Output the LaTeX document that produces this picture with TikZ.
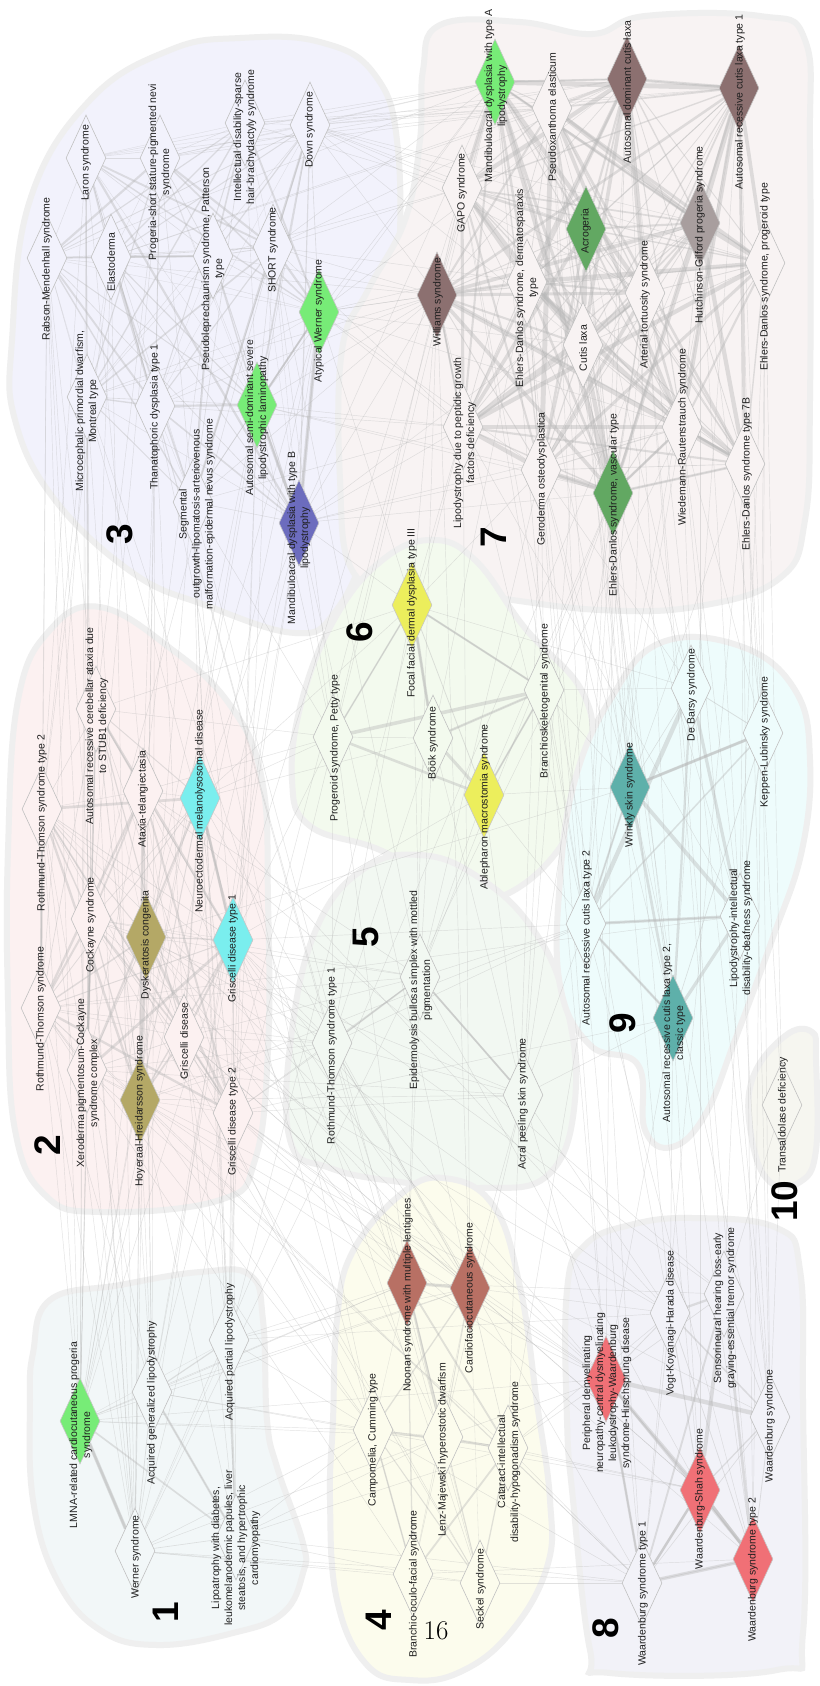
\documentclass[tikz,border=0pt]{standalone}
\usepackage{fontspec}
\usetikzlibrary{shapes.geometric}
\newfontfamily\lsans{Liberation Sans}

% cluster backgrounds
\definecolor{h1}{RGB}{242,247,248}
\definecolor{h2}{RGB}{252,241,241}
\definecolor{h3}{RGB}{242,242,252}
\definecolor{h4}{RGB}{252,252,237}
\definecolor{h5}{RGB}{242,248,242}
\definecolor{h6}{RGB}{243,250,238}
\definecolor{h7}{RGB}{248,243,243}
\definecolor{h8}{RGB}{242,242,248}
\definecolor{h9}{RGB}{238,252,252}
\definecolor{h10}{RGB}{246,246,240}
\definecolor{hullline}{RGB}{239,239,239}
\definecolor{edgec}{RGB}{182,182,182}
\definecolor{dline}{RGB}{192,192,192}
% highlighted node colours
\definecolor{clgreen}{RGB}{119,236,119}
\definecolor{cblue}{RGB}{108,108,190}
\definecolor{cbrown}{RGB}{140,112,112}
\definecolor{chgray}{RGB}{168,158,158}
\definecolor{cdgreen}{RGB}{98,168,98}
\definecolor{colive}{RGB}{180,168,102}
\definecolor{ccyan}{RGB}{122,238,238}
\definecolor{cyellow}{RGB}{236,238,92}
\definecolor{crbrown}{RGB}{184,112,100}
\definecolor{cred}{RGB}{240,112,118}
\definecolor{cteal}{RGB}{94,176,170}

\pgfdeclarelayer{hulls}
\pgfdeclarelayer{edges}
\pgfdeclarelayer{labels}
\pgfsetlayers{hulls,edges,main,labels}

\tikzset{
  dmd/.style={shape=diamond, minimum width=40pt, minimum height=86pt, inner sep=0pt, draw=dline, line width=0.6pt},
  txt/.style={font=\lsans\fontsize{10.5}{13}\selectfont, rotate=90, align=center, inner sep=0pt, text=black!88},
  num/.style={font=\lsans\bfseries\fontsize{37}{37}\selectfont, rotate=90, inner sep=0pt},
  hull/.style={draw=hullline, line width=6pt},
  edge/.style={draw=edgec, draw opacity=0.4, line cap=round},
  n1/.style={fill=h1}, n2/.style={fill=h2}, n3/.style={fill=h3}, n4/.style={fill=h4},
  n5/.style={fill=h5}, n6/.style={fill=h6}, n7/.style={fill=h7}, n8/.style={fill=h8},
  n9/.style={fill=h9}, n10/.style={fill=h10},
  hl/.style={fill=#1, draw=gray!45}
}

% diamond node with its rotated caption
\newcommand\dn[7]{%
  \node[dmd,#2] (#1) at (#3,#4) {};
  \begin{pgfonlayer}{labels}
    \node[txt] (#1-t) at (#5,#6) {#7};
  \end{pgfonlayer}}

% all pairs inside a group, widths varied
\newcommand\grp[2]{%
  \foreach \a [count=\i] in {#2}{%
    \foreach \b [count=\j] in {#2}{%
      \ifnum\j>\i\relax
        \pgfmathsetmacro\m{mod(\i*7+\j*11,13)/12}%
        \pgfmathsetmacro\w{#1*(0.35+2.4*\m*\m)}%
        \draw[edge,line width=\w pt] (\a) -- (\b);
      \fi}}}

\begin{document}
\begin{tikzpicture}[x=1pt,y=-1pt]
\useasboundingbox (0,0) rectangle (819,1686);

\begin{pgfonlayer}{hulls}
\fill[white] (0,0) rectangle (819,1686);
\draw[hull,fill=h3] plot[smooth cycle,tension=0.7] coordinates {(12,340) (30,200) (90,100) (170,50) (240,38) (320,42) (375,75) (398,150) (398,300) (390,430) (368,540) (335,612) (295,633) (205,605) (133,573) (55,500) (15,420)};
\draw[hull,fill=h7] plot[smooth cycle,tension=0.7] coordinates {(423,70) (440,25) (520,22) (592,34) (645,16) (760,16) (805,40) (810,150) (810,400) (805,520) (780,578) (700,606) (600,610) (480,596) (400,590) (352,570) (340,480) (342,350) (368,290) (405,220) (420,140)};
\draw[hull,fill=h2] plot[smooth cycle,tension=0.7] coordinates {(8,850) (18,700) (50,630) (100,607) (170,648) (230,705) (262,780) (268,900) (268,1050) (255,1160) (220,1200) (100,1212) (45,1195) (15,1130) (8,1000)};
\draw[hull,fill=h6] plot[smooth cycle,tension=0.7] coordinates {(292,780) (302,700) (335,618) (380,562) (430,540) (475,560) (525,628) (583,693) (590,760) (565,840) (505,895) (455,890) (380,850) (310,826)};
\draw[hull,fill=h5] plot[smooth cycle,tension=0.7] coordinates {(290,1140) (292,1030) (318,925) (365,868) (420,855) (475,875) (530,925) (565,1000) (575,1100) (548,1175) (480,1188) (400,1182) (330,1168)};
\draw[hull,fill=h1] plot[smooth cycle,tension=0.7] coordinates {(50,1300) (120,1285) (200,1272) (250,1275) (263,1320) (267,1420) (277,1467) (303,1543) (303,1573) (283,1613) (233,1633) (157,1645) (100,1630) (57,1580) (33,1500) (30,1400) (33,1353)};
\draw[hull,fill=h4] plot[smooth cycle,tension=0.7] coordinates {(333,1420) (337,1320) (352,1253) (400,1195) (443,1178) (493,1205) (520,1287) (537,1403) (550,1500) (547,1567) (510,1633) (460,1672) (410,1680) (367,1665) (337,1600) (330,1500)};
\draw[hull,fill=h8] plot[smooth cycle,tension=0.7] coordinates {(567,1290) (585,1245) (630,1225) (693,1218) (777,1228) (800,1270) (803,1400) (803,1633) (777,1670) (610,1673) (590,1650) (573,1500) (567,1420)};
\draw[hull,fill=h9] plot[smooth cycle,tension=0.7] coordinates {(560,880) (575,780) (610,700) (660,643) (740,646) (795,690) (810,760) (802,850) (772,940) (735,1040) (705,1115) (672,1147) (645,1130) (638,1065) (590,1045) (560,985)};
\draw[hull,fill=h10] plot[smooth cycle,tension=0.7] coordinates {(752,1080) (785,1036) (812,1032) (816,1060) (816,1150) (800,1182) (770,1182) (752,1140)};
\end{pgfonlayer}

% group 3
\dn{rm}{n3}{47}{258}{47}{269}{Rabson-Mendenhall syndrome}
\dn{lar}{n3}{86}{158}{86}{163}{Laron syndrome}
\dn{ela}{n3}{111}{257}{111}{262}{Elastoderma}
\dn{psn}{n3}{160}{158}{160}{172}{Progeria-short stature-pigmented nevi\\syndrome}
\dn{pls}{n3}{213}{256}{213}{269}{Pseudoleprechaunism syndrome, Patterson\\type}
\dn{idb}{n3}{245}{123}{245}{137}{Intellectual disability-sparse\\hair-brachydactyly syndrome}
\dn{dow}{n3}{310}{125}{310}{130}{Down syndrome}
\dn{sho}{n3}{273}{247}{273}{250}{SHORT syndrome}
\dn{awe}{hl=clgreen}{319}{312}{319}{321}{Atypical Werner syndrome}
\dn{mpd}{n3}{87}{397}{87}{411}{Microcephalic primordial dwarfism,\\Montreal type}
\dn{tha}{n3}{155}{406}{155}{417}{Thanatophoric dysplasia type 1}
\dn{seg}{n3}{193}{502}{197}{514}{Segmental\\outgrowth-lipomatosis-arteriovenous\\malformation-epidermal nevus syndrome}
\dn{asd}{hl=clgreen}{257}{405}{257}{418}{Autosomal semi-dominant severe\\lipodystrophic laminopathy}
\dn{madb}{hl=cblue}{299}{523}{299}{538}{Mandibuloacral dysplasia with type B\\lipodystrophy}
% group 7
\dn{mada}{hl=clgreen}{495}{82}{496}{96}{Mandibuloacral dysplasia with type A\\lipodystrophy}
\dn{pxe}{n7}{552}{108}{552}{117}{Pseudoxanthoma elasticum}
\dn{adcl}{hl=cbrown}{627}{79}{627}{92}{Autosomal dominant cutis laxa}
\dn{arcl1}{hl=cbrown}{739}{88}{740}{102}{Autosomal recessive cutis laxa type 1}
\dn{gapo}{n7}{462}{188}{462}{193}{GAPO syndrome}
\dn{edsd}{n7}{527}{282}{527}{288}{Ehlers-Danlos syndrome, dermatosparaxis\\type}
\dn{acro}{hl=cdgreen}{586}{229}{586}{231}{Acrogeria}
\dn{hgps}{hl=chgray}{700}{223}{700}{235}{Hutchinson-Gilford progeria syndrome}
\dn{edsp}{n7}{765}{263}{765}{277}{Ehlers-Danlos syndrome, progeroid type}
\dn{wil}{hl=cbrown}{437}{295}{438}{302}{Williams syndrome}
\dn{ats}{n7}{645}{293}{645}{305}{Arterial tortuosity syndrome}
\dn{cl}{n7}{583}{345}{583}{348}{Cutis laxa}
\dn{lpg}{n7}{463}{427}{465}{443}{Lipodystrophy due to peptidic growth\\factors deficiency}
\dn{geo}{n7}{541}{470}{542}{479}{Geroderma osteodysplastica}
\dn{wrs}{n7}{682}{427}{683}{437}{Wiedemann-Rautenstrauch syndrome}
\dn{eds7b}{n7}{745}{464}{747}{474}{Ehlers-Danlos syndrome type 7B}
\dn{edsv}{hl=cdgreen}{613}{493}{614}{505}{Ehlers-Danlos syndrome, vascular type}
% group 2
\dn{rts2}{n2}{42}{809}{42}{823}{Rothmund-Thomson syndrome type 2}
\dn{stub}{n2}{96}{709}{97}{726}{Autosomal recessive cerebellar ataxia due\\to STUB1 deficiency}
\dn{atel}{n2}{143}{791}{143}{799}{Ataxia-telangiectasia}
\dn{nmd}{hl=ccyan}{200}{798}{200}{811}{Neuroectodermal melanolysosomal disease}
\dn{rts}{n2}{41}{1008}{41}{1019}{Rothmund-Thomson syndrome}
\dn{coc}{n2}{91}{919}{91}{925}{Cockayne syndrome}
\dn{dkc}{hl=colive}{146}{937}{146}{945}{Dyskeratosis congenita}
\dn{gs1}{hl=ccyan}{233}{940}{233}{949}{Griscelli disease type 1}
\dn{xpcs}{n2}{87}{1070}{88}{1083}{Xeroderma pigmentosum-Cockayne\\syndrome complex}
\dn{gs}{n2}{184}{1037}{184}{1041}{Griscelli disease}
\dn{hhs}{hl=colive}{140}{1100}{140}{1111}{Hoyeraal-Hreidarsson syndrome}
\dn{gs2}{n2}{233}{1113}{233}{1122}{Griscelli disease type 2}
% group 6
\dn{pet}{n6}{333}{737}{335}{748}{Progeroid syndrome, Petty type}
\dn{ffd}{hl=cyellow}{412}{605}{412}{613}{Focal facial dermal dysplasia type III}
\dn{book}{n6}{433}{738}{433}{743}{Böök syndrome}
\dn{bsg}{n6}{544}{690}{545}{701}{Branchioskeletogenital syndrome}
\dn{ams}{hl=cyellow}{484}{795}{485}{807}{Ablepharon macrostomia syndrome}
% group 5
\dn{rts1}{n5}{332}{1043}{332}{1056}{Rothmund-Thomson syndrome type 1}
\dn{ebs}{n5}{420}{977}{421}{990}{Epidermolysis bullosa simplex with mottled\\pigmentation}
\dn{aps}{n5}{523}{1095}{523}{1104}{Acral peeling skin syndrome}
% group 1
\dn{lmna}{hl=clgreen}{80}{1421}{81}{1435}{LMNA-related cardiocutaneous progeria\\syndrome}
\dn{agl}{n1}{152}{1392}{152}{1403}{Acquired generalized lipodystrophy}
\dn{apl}{n1}{229}{1340}{230}{1352}{Acquired partial lipodystrophy}
\dn{wer}{n1}{135}{1551}{136}{1557}{Werner syndrome}
\dn{lip}{n1}{236}{1537}{236}{1548}{Lipoatrophy with diabetes,\\leukomelanodermic papules, liver\\steatosis, and hypertrophic\\cardiomyopathy}
% group 4
\dn{nsml}{hl=crbrown}{407}{1283}{408}{1295}{Noonan syndrome with multiple lentigines}
\dn{cfc}{hl=crbrown}{470}{1288}{470}{1298}{Cardiofaciocutaneous syndrome}
\dn{cam}{n4}{373}{1430}{373}{1440}{Campomelia, Cumming type}
\dn{lmd}{n4}{443}{1437}{443}{1450}{Lenz-Majewski hyperostotic dwarfism}
\dn{cat}{n4}{508}{1448}{509}{1462}{Cataract-intellectual\\disability-hypogonadism syndrome}
\dn{bof}{n4}{413}{1574}{414}{1584}{Branchio-oculo-facial syndrome}
\dn{sec}{n4}{480}{1583}{481}{1589}{Seckel syndrome}
% group 8
\dn{pcwh}{hl=cred}{606}{1379}{607}{1393}{Peripheral demyelinating\\neuropathy-central dysmyelinating\\leukodystrophy-Waardenburg\\syndrome-Hirschsprung disease}
\dn{vkh}{n8}{670}{1313}{671}{1323}{Vogt-Koyanagi-Harada disease}
\dn{shl}{n8}{724}{1294}{725}{1308}{Sensorineural hearing loss-early\\graying-essential tremor syndrome}
\dn{waa}{n8}{770}{1417}{770}{1426}{Waardenburg syndrome}
\dn{wss}{hl=cred}{700}{1490}{700}{1499}{Waardenburg-Shah syndrome}
\dn{ws2}{hl=cred}{753}{1559}{753}{1570}{Waardenburg syndrome type 2}
\dn{ws1}{n8}{642}{1583}{643}{1594}{Waardenburg syndrome type 1}
% group 9
\dn{dbs}{n9}{691}{688}{692}{695}{De Barsy syndrome}
\dn{kls}{n9}{763}{733}{765}{742}{Keppen-Lubinsky syndrome}
\dn{wsk}{hl=cteal}{630}{787}{630}{795}{Wrinkly skin syndrome}
\dn{arcl2}{n9}{586}{924}{587}{938}{Autosomal recessive cutis laxa type 2}
\dn{lid}{n9}{740}{916}{741}{928}{Lipodystrophy-intellectual\\disability-deafness syndrome}
\dn{arcl2c}{hl=cteal}{673}{1018}{674}{1033}{Autosomal recessive cutis laxa type 2,\\classic type}
% group 10
\dn{tal}{n10}{782}{1105}{783}{1115}{Transaldolase deficiency}

% group numbers
\begin{pgfonlayer}{labels}
\node[num] (g1) at (166,1612) {1};
\node[num] (g2) at (48,1145) {2};
\node[num] (g3) at (120,534) {3};
\node[num] (g4) at (379,1620) {4};
\node[num] (g5) at (366,937) {5};
\node[num] (g6) at (360,632) {6};
\node[num] (g7) at (494,537) {7};
\node[num] (g8) at (606,1628) {8};
\node[num] (g9) at (623,1023) {9};
\node[num] (g10) at (785,1201) {10};
\node[font=\fontsize{27}{27}\selectfont, inner sep=0pt] (pgno) at (436,1631) {16};
\end{pgfonlayer}

\begin{pgfonlayer}{edges}
% links inside each group
\grp{0.8}{rm,lar,ela,psn,pls,idb,dow,sho,awe,mpd,tha,seg,asd,madb}
\grp{1.8}{mada,pxe,adcl,arcl1,gapo,edsd,acro,hgps,edsp,wil,ats,cl,lpg,geo,wrs,eds7b,edsv}
\grp{1.0}{rts2,stub,atel,nmd,rts,coc,dkc,gs1,xpcs,gs,hhs,gs2}
\grp{1.3}{pet,ffd,book,bsg,ams}
\grp{1.2}{rts1,ebs,aps}
\grp{0.8}{lmna,agl,apl,wer,lip}
\grp{0.9}{nsml,cfc,cam,lmd,cat,bof,sec}
\grp{1.6}{pcwh,vkh,shl,waa,wss,ws2,ws1}
\grp{1.6}{dbs,kls,wsk,arcl2,lid,arcl2c}
% links between groups
\foreach \a/\b in {
 dow/mada, dow/adcl, dow/arcl1, dow/pxe, dow/hgps, dow/gapo, dow/wil, dow/edsp, sho/mada, sho/wil,
 sho/lpg, sho/adcl, idb/mada, idb/arcl1, awe/mada, awe/wil, awe/hgps, awe/lpg, awe/wrs, awe/adcl,
 asd/mada, asd/lpg, asd/wil, madb/mada, madb/lpg, madb/wil, madb/hgps, madb/geo, psn/pxe, psn/adcl,
 pls/wil, lar/mada, tha/lpg, seg/wil, mpd/wil, rm/mada, ela/adcl, ela/pxe,
 dow/acro, dow/cl, dow/ats, idb/pxe, idb/gapo, sho/gapo, sho/edsd, awe/edsd, awe/cl, awe/geo,
 asd/geo, asd/edsv, madb/edsv, madb/wrs, pls/gapo, psn/mada, lar/pxe, rm/wil, seg/lpg, tha/wil,
 rm/rts2, rm/stub, lar/rts2, mpd/coc, mpd/rts, tha/atel, seg/nmd, ela/rts2, psn/coc, madb/gs1,
 asd/gs2, awe/dkc, sho/coc, mpd/xpcs, pls/hhs, tha/dkc, rm/rts, lar/coc,
 rm/xpcs, ela/stub, lar/atel, psn/stub, pls/atel, mpd/rts2, tha/gs, seg/gs1, madb/nmd, asd/dkc,
 awe/wer, asd/lmna, madb/lmna, madb/agl, asd/apl, awe/lmna, mpd/lmna, rm/wer, seg/lip, psn/wer,
 lar/lmna, rm/lmna, ela/wer, tha/agl, seg/apl, mpd/agl, dow/lmna, sho/apl,
 madb/ffd, seg/pet, awe/ffd, asd/pet, madb/pet, tha/rts1, sho/ebs,
 rm/bof, mpd/sec, lar/sec, tha/cam, madb/cfc, sho/nsml, seg/lmd,
 edsv/wsk, edsv/arcl2, edsv/arcl2c, adcl/arcl2, adcl/arcl2c, arcl1/arcl2c, arcl1/arcl2, cl/arcl2c,
 cl/wsk, cl/dbs, wrs/dbs, wrs/kls, ats/arcl2, ats/wsk, geo/wsk, geo/dbs, geo/arcl2c, eds7b/kls,
 eds7b/lid, edsp/lid, hgps/lid, hgps/kls, lpg/lid, mada/lid, edsd/arcl2, pxe/arcl2,
 acro/wsk, acro/dbs, pxe/wsk, gapo/arcl2, edsd/wsk, arcl1/kls, edsp/kls, eds7b/wsk, wrs/lid, wil/arcl2,
 adcl/ws2, arcl1/waa, edsv/pcwh, hgps/wss, edsp/ws2, eds7b/ws1, wrs/waa, ats/shl, cl/vkh, geo/ws1,
 mada/pcwh, ffd/wil, ffd/lpg, ffd/geo, bsg/edsv, book/edsd, ams/edsv, bsg/geo, pet/wil, ebs/edsv,
 aps/cl, aps/ats, ebs/geo, eds7b/tal, edsp/tal, wil/nsml, lpg/cfc, geo/cat, wil/cfc, arcl1/cat,
 lpg/apl, mada/lmna, hgps/wer, mada/agl, mada/wer, wrs/wer,
 adcl/waa, arcl1/ws2, pxe/ws1, acro/wss, cl/ws2, edsd/pcwh, gapo/vkh,
 gs1/rts1, gs2/rts1, hhs/rts1, dkc/rts1, rts/rts1, rts2/rts1, xpcs/aps, coc/aps, gs/ebs, nmd/pet,
 gs1/pet, dkc/ebs, atel/ebs, rts/ebs, stub/pet, nmd/ffd, gs1/ams, gs2/aps,
 nmd/book, atel/pet, coc/ebs, stub/ffd, gs/rts1, xpcs/rts1, hhs/aps, gs2/ebs,
 rts2/lmna, rts/lmna, xpcs/lmna, coc/wer, rts2/wer, hhs/wer, dkc/lmna, atel/wer, stub/lmna, gs/apl,
 gs2/apl, gs1/agl, nmd/lip, rts/agl, xpcs/agl, hhs/lip, dkc/agl,
 rts/wer, xpcs/wer, coc/lmna, stub/wer, atel/agl, nmd/apl, gs1/apl, gs/lip, gs2/lip, hhs/agl,
 rts/bof, rts2/sec, coc/sec, xpcs/cat, hhs/nsml, gs2/cfc, dkc/cfc, gs1/nsml, atel/lmd, gs/cam,
 nmd/cfc, rts/cam, rts/ws1, rts2/pcwh, gs1/wss, gs2/ws2, gs/wss, hhs/ws1, dkc/vkh, coc/pcwh,
 xpcs/waa, atel/shl, nmd/vkh, gs1/shl, gs1/arcl2, gs2/arcl2c, dkc/wsk, hhs/arcl2, rts/lid,
 gs2/nsml, gs/cfc, hhs/cam, dkc/nsml, gs1/cfc, gs2/pcwh, gs/vkh, hhs/pcwh,
 lmna/cam, lmna/nsml, wer/bof, wer/cam, agl/cam, agl/nsml, apl/cfc, apl/nsml, lip/bof, lip/cat,
 wer/sec, lmna/lmd, wer/ws1, lmna/pcwh, apl/vkh, agl/wss, lip/ws1,
 lip/cam, lip/lmd, apl/cam, agl/cfc, lmna/cfc, wer/lmd,
 cat/pcwh, cat/ws1, lmd/wss, sec/ws1, bof/ws2, cfc/vkh, nsml/shl, cfc/pcwh, cam/ws1,
 cat/wss, cat/vkh, lmd/pcwh, nsml/pcwh, cfc/wss,
 nsml/rts1, cfc/aps, nsml/ebs, cfc/rts1, lmd/aps,
 rts1/pet, ebs/book, aps/bsg, ebs/ffd, rts1/ffd, ebs/ams, aps/ams, rts1/book, aps/book,
 aps/arcl2, ebs/arcl2, aps/arcl2c, rts1/arcl2, aps/pcwh, aps/vkh, ebs/wss, rts1/ws1,
 bsg/wsk, ams/arcl2, bsg/arcl2, ffd/dbs, ams/wsk, bsg/dbs,
 arcl2c/pcwh, lid/shl, arcl2c/vkh, tal/shl, tal/waa, wsk/waa, arcl2/ws2, lid/waa, kls/waa, arcl2c/wss}
 \draw[edge,line width=0.45pt] (\a) -- (\b);
% heavier links
\foreach \a/\b/\w in {
 lmna/wer/3.5, agl/lip/2.2, awe/madb/3.5, asd/madb/2.5, asd/awe/1.6, ffd/book/3, book/bsg/2.5,
 ffd/bsg/2, ffd/pet/1.6, ams/bsg/1.8, nsml/cfc/3, wsk/kls/3, arcl2/lid/3, arcl2/arcl2c/2.5,
 wsk/arcl2/2, ws1/ws2/3.5, wss/ws2/3, ws1/wss/2.5, pcwh/ws1/2.5, dkc/hhs/2.5, gs1/nmd/2,
 wil/lpg/2, edsv/wrs/2.5, edsv/geo/2, mada/hgps/2.5, adcl/arcl1/3, cl/ats/2, rts1/ebs/1.6,
 ebs/aps/1.6, rts2/rts/1.8, coc/xpcs/1.6, mada/adcl/2, edsv/eds7b/2.5, wrs/eds7b/2}
 \draw[edge,line width=\w pt] (\a) -- (\b);
\end{pgfonlayer}
\end{tikzpicture}
\end{document}
